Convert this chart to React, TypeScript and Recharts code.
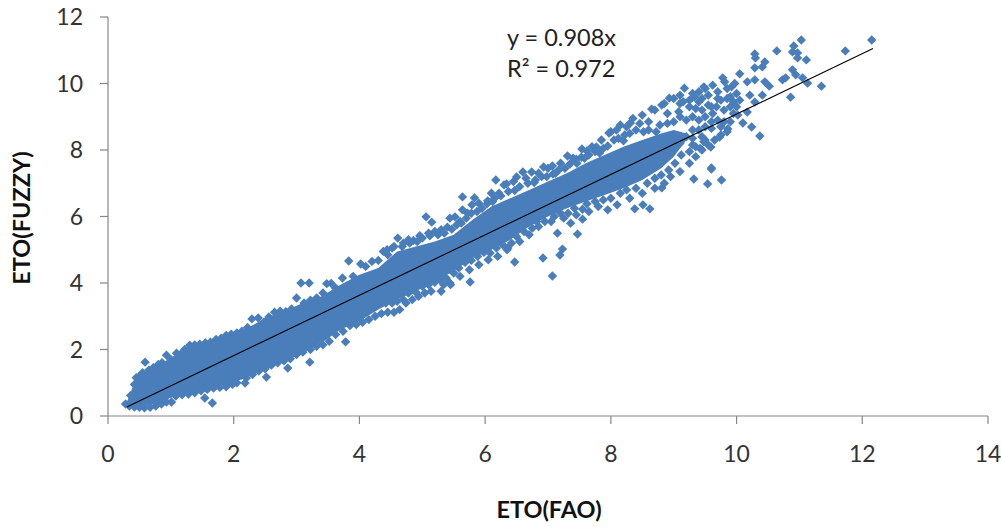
import { Area, ComposedChart, Line, Scatter, XAxis, YAxis } from "recharts";

const X_TICKS = [0, 2, 4, 6, 8, 10, 12, 14];
const Y_TICKS = [0, 2, 4, 6, 8, 10, 12];
const BLUE = "#4a7ebb";
const FONT = "Lato, 'Open Sans', sans-serif";

// the middle of the cloud is solid colour, single markers can't be read there,
// so it is kept as a low/high envelope per FAO value
const coreFao = [0.3, 0.42, 0.6, 0.8, 1.0, 1.3, 1.6, 1.9, 2.2, 2.5, 2.8, 3.1, 3.4, 3.7, 4.0, 4.3, 4.6, 4.9, 5.2, 5.5, 5.8, 6.1, 6.4, 6.7, 7.0, 7.3, 7.6, 7.9, 8.2, 8.5, 8.8, 9.0, 9.2];
const coreLow = [0.3, 0.32, 0.3, 0.38, 0.55, 0.7, 0.85, 0.95, 1.15, 1.4, 1.65, 1.9, 2.2, 2.6, 2.85, 3.2, 3.5, 3.75, 4.05, 4.35, 4.75, 5.0, 5.3, 5.7, 6.0, 6.25, 6.45, 6.65, 6.85, 7.1, 7.45, 7.8, 8.3];
const coreHigh = [0.42, 1.0, 1.32, 1.52, 1.75, 2.1, 2.25, 2.4, 2.62, 2.95, 3.15, 3.4, 3.6, 3.95, 4.25, 4.45, 4.95, 5.1, 5.25, 5.45, 5.9, 6.3, 6.55, 6.8, 7.05, 7.3, 7.6, 7.85, 8.1, 8.3, 8.5, 8.6, 8.5];

const upperMarks = [
  [0.36, 0.62], [0.42, 0.95], [0.45, 1.15], [0.5, 1.2], [0.55, 1.3], [0.59, 1.62], [0.65, 1.38], [0.72, 1.45], [0.8, 1.55], [0.86, 1.6],
  [0.93, 1.83], [1.0, 1.7], [1.09, 1.89], [1.15, 1.85], [1.22, 2.0], [1.3, 2.13], [1.38, 2.14], [1.46, 2.16], [1.55, 2.2], [1.63, 2.22],
  [1.72, 2.3], [1.8, 2.34], [1.88, 2.42], [1.96, 2.46], [2.05, 2.5], [2.13, 2.55], [2.22, 2.66], [2.29, 2.92], [2.39, 2.95], [2.48, 2.82],
  [2.56, 2.98], [2.65, 3.12], [2.74, 3.15], [2.83, 3.14], [2.92, 3.22], [3.0, 3.55], [3.07, 4.0], [3.2, 4.0], [3.12, 3.4], [3.22, 3.48],
  [3.32, 3.55], [3.42, 3.7], [3.48, 3.98], [3.55, 3.99], [3.62, 3.85], [3.73, 4.15], [3.83, 4.66], [3.9, 4.2], [4.02, 4.57], [4.1, 4.5],
  [4.2, 4.65], [4.3, 4.68], [4.38, 4.95], [4.44, 5.0], [4.52, 5.05], [4.61, 5.35], [4.7, 5.2], [4.78, 5.3], [4.86, 5.28], [4.96, 5.42],
  [5.06, 5.99], [5.15, 5.83], [5.1, 5.5], [5.2, 5.55], [5.3, 5.6], [5.44, 5.95], [5.52, 5.99], [5.4, 5.68], [5.6, 5.85], [5.64, 6.2],
  [5.64, 6.59], [5.72, 6.1], [5.79, 6.35], [5.83, 6.56], [5.9, 6.4], [6.04, 6.47], [6.1, 6.7], [6.12, 6.45], [6.17, 7.1], [6.22, 6.7],
  [6.34, 6.98], [6.3, 6.95], [6.45, 7.05], [6.5, 7.19], [6.6, 7.34], [6.65, 7.15], [6.74, 7.34], [6.85, 7.3], [6.8, 7.1], [6.93, 7.49],
  [7.07, 7.52], [7.0, 7.45], [7.12, 7.3], [7.2, 7.6], [7.31, 7.82], [7.4, 7.75], [7.46, 7.6], [7.54, 8.03], [7.62, 7.97], [7.58, 7.75],
  [7.77, 8.09], [7.7, 8.1], [7.82, 7.91], [7.85, 8.3], [7.97, 8.51], [8.0, 8.55], [8.09, 8.6], [8.15, 8.75], [8.25, 8.7], [8.31, 8.81],
  [8.22, 8.45], [8.35, 8.95], [8.46, 8.8], [8.5, 9.05], [8.65, 9.23], [8.6, 8.85], [8.7, 9.2], [8.81, 9.35], [8.85, 9.4], [8.93, 9.56],
  [8.9, 9.1], [9.0, 9.55], [9.08, 9.15], [9.1, 9.65], [9.17, 9.86], [9.15, 9.45], [9.25, 9.5], [9.33, 9.6], [9.4, 9.75], [9.48, 9.9],
  [4.45, 4.85], [4.55, 5.1], [4.68, 5.1], [4.8, 5.2], [4.92, 5.25], [5.0, 5.35], [5.12, 5.42], [5.25, 5.45], [5.35, 5.5], [5.47, 5.62],
  [5.55, 5.75], [5.62, 5.8], [5.7, 5.95], [5.78, 6.1], [5.87, 6.15], [5.95, 6.25], [6.03, 6.38], [6.15, 6.55], [6.25, 6.62], [6.37, 6.75],
  [6.47, 6.78], [6.55, 6.9], [6.68, 7.0], [6.78, 7.02], [6.9, 7.2], [6.98, 7.2], [7.08, 7.28], [7.17, 7.4], [7.27, 7.45], [7.35, 7.58],
  [7.45, 7.72], [7.53, 7.78], [7.65, 7.85], [7.75, 7.95], [7.88, 8.05], [7.95, 8.12], [8.05, 8.3], [8.12, 8.35], [8.2, 8.28], [8.3, 8.5],
  [8.4, 8.6], [8.52, 8.55], [8.6, 8.6], [8.72, 8.55], [8.78, 8.75], [8.9, 8.8], [9.0, 8.85],
];

const lowerMarks = [
  [0.28, 0.36], [0.34, 0.3], [0.42, 0.27], [0.5, 0.26], [0.58, 0.25], [0.67, 0.26], [0.76, 0.3], [0.85, 0.36], [0.93, 0.42], [1.01, 0.42],
  [1.08, 0.6], [1.18, 0.64], [1.28, 0.66], [1.38, 0.7], [1.54, 0.54], [1.48, 0.76], [1.58, 0.8], [1.66, 0.39], [1.68, 0.84], [1.78, 0.86],
  [1.88, 0.88], [1.98, 0.95], [2.05, 1.0], [2.18, 0.99], [2.2, 1.14], [2.3, 1.25], [2.4, 1.35], [2.52, 1.17], [2.5, 1.42], [2.6, 1.53],
  [2.7, 1.6], [2.86, 1.44], [2.8, 1.66], [2.9, 1.72], [3.0, 1.85], [3.1, 1.92], [3.21, 1.62], [3.22, 2.0], [3.32, 2.1], [3.42, 2.14],
  [3.52, 2.25], [3.62, 2.45], [3.78, 2.23], [3.74, 2.55], [3.85, 2.72], [3.95, 2.75], [4.05, 2.82], [4.15, 2.9], [4.25, 3.0], [4.35, 3.08],
  [4.45, 3.12], [4.55, 3.12], [4.64, 3.2], [4.74, 3.4], [4.84, 3.5], [4.94, 3.6], [5.04, 3.7], [5.14, 3.75], [5.3, 3.75], [5.34, 3.95],
  [5.44, 4.0], [5.45, 3.95], [5.6, 4.2], [5.76, 4.03], [5.75, 4.4], [5.9, 4.55], [6.05, 4.7], [6.2, 4.8], [6.35, 5.0], [6.36, 5.05],
  [6.47, 4.63], [6.55, 5.25], [6.7, 5.45], [6.85, 5.7], [6.92, 4.75], [7.07, 4.21], [7.05, 5.85], [7.15, 5.5], [7.19, 4.84], [7.23, 5.02],
  [7.25, 5.95], [7.36, 5.8], [7.47, 5.47], [7.45, 6.05], [7.55, 5.92], [7.65, 6.15], [7.8, 6.3], [7.95, 6.2], [8.1, 6.35], [8.3, 6.55],
  [8.38, 6.23], [8.51, 6.35], [8.62, 6.23], [8.5, 6.7], [8.7, 6.85], [8.81, 6.86], [8.85, 7.0], [8.95, 7.2], [9.1, 7.35], [9.25, 7.6],
  [9.35, 7.8], [9.45, 8.0], [9.55, 8.15], [9.65, 8.3], [9.75, 8.45], [9.85, 8.55], [9.32, 7.13], [9.54, 6.98], [9.76, 7.1], [9.6, 7.43],
  [4.42, 3.4], [4.52, 3.4], [4.6, 3.45], [4.7, 3.5], [4.78, 3.7], [4.9, 3.72], [5.0, 3.9], [5.1, 3.95], [5.2, 4.02], [5.28, 4.1],
  [5.38, 4.15], [5.5, 4.3], [5.58, 4.45], [5.68, 4.62], [5.78, 4.68], [5.88, 4.8], [5.98, 4.92], [6.08, 4.9], [6.18, 5.05], [6.28, 5.15],
  [6.42, 5.2], [6.5, 5.4], [6.62, 5.55], [6.75, 5.65], [6.82, 5.85], [6.95, 5.85], [7.1, 6.0], [7.2, 6.1], [7.32, 6.1], [7.42, 6.25],
  [7.55, 6.22], [7.62, 6.38], [7.75, 6.45], [7.88, 6.5], [8.0, 6.55], [8.15, 6.7], [8.25, 6.8], [8.4, 6.85], [8.58, 7.0], [8.7, 7.15],
  [8.8, 7.25], [8.92, 7.4], [9.02, 7.6], [9.12, 7.85], [9.25, 7.95], [9.35, 8.1], [9.48, 8.25],
];

const tailMarks = [
  [9.3, 9.7], [9.45, 9.55], [9.5, 9.85], [9.55, 9.65], [9.62, 9.95], [9.7, 9.75], [9.78, 10.17], [9.81, 10.05], [9.85, 9.85], [9.92, 9.9],
  [9.97, 10.0], [10.05, 10.29], [10.0, 9.7], [9.9, 9.6], [9.75, 9.5], [9.68, 9.3], [9.55, 9.35], [9.45, 9.2], [9.35, 9.25], [9.62, 9.1],
  [9.8, 9.2], [9.9, 9.3], [10.0, 9.3], [9.95, 9.1], [9.8, 8.85], [9.7, 8.9], [9.6, 8.65], [9.75, 8.7], [9.86, 8.63], [9.9, 8.85],
  [10.02, 9.05], [10.1, 8.81], [10.17, 9.14], [9.73, 8.39], [9.59, 8.09], [9.5, 8.3], [9.42, 8.05], [9.3, 8.15], [9.6, 7.46], [9.45, 8.4],
  [9.1, 9.0], [9.2, 8.9], [9.3, 9.0], [9.4, 8.9], [9.5, 9.0], [9.4, 8.6], [9.5, 8.7], [9.6, 8.85], [9.3, 8.6], [9.2, 8.4],
  [9.3, 8.35], [9.1, 8.2], [9.6, 9.3], [9.7, 9.55], [9.85, 9.55], [9.95, 9.45], [10.05, 9.5], [9.25, 9.3], [9.1, 9.4], [9.4, 9.45],
  [12.15, 11.31], [11.73, 10.98], [11.35, 9.92], [11.13, 10.01], [11.05, 10.17], [10.86, 9.59], [11.11, 10.71], [11.03, 11.31], [10.91, 11.13], [10.89, 10.95],
  [10.97, 10.92], [10.97, 10.77], [10.64, 10.98], [10.29, 10.89], [10.3, 10.77], [10.45, 10.65], [10.41, 10.5], [10.29, 10.47], [10.89, 10.41], [10.94, 10.26],
  [10.78, 10.17], [10.73, 10.11], [10.41, 9.65], [10.29, 10.11], [10.45, 10.05], [10.52, 9.92], [10.17, 10.05], [10.21, 9.65], [10.29, 9.44], [10.24, 8.69],
  [10.37, 8.42],
];

const trendFao = [0.3, 12.17];
const trendFuzzy = [0.27, 11.05];

const coreRows = coreFao.map((x, i) => ({ x, range: [coreLow[i], coreHigh[i]] }));
const markRows = [...upperMarks, ...lowerMarks, ...tailMarks].map(([x, y]) => ({ x, y }));
const trendRows = trendFao.map((x, i) => ({ x, y: trendFuzzy[i] }));

const Diamond = ({ cx, cy }: any) => (
  <polygon
    points={`${cx},${cy - 4.7} ${cx + 4.7},${cy} ${cx},${cy + 4.7} ${cx - 4.7},${cy}`}
    fill={BLUE}
  />
);

const App = () => {
  const tick = { fill: "#333", fontSize: 23, fontFamily: FONT };
  const axisLine = { stroke: "#868686", strokeWidth: 1.2 };
  const title = { fontFamily: FONT, fontSize: 23.5, fontWeight: 700, fill: "#111" };

  return (
    <div style={{ position: "absolute", left: 0, top: 0, width: 1001, height: 527, background: "#fff" }}>
      <ComposedChart
        width={1001}
        height={527}
        data={coreRows}
        margin={{ top: 17, right: 13, bottom: 0, left: 0 }}
      >
        <XAxis
          type="number"
          dataKey="x"
          domain={[0, 14]}
          ticks={X_TICKS}
          height={111}
          tickSize={8}
          tickMargin={22}
          tick={tick}
          axisLine={axisLine}
          tickLine={axisLine}
          interval={0}
        />
        <YAxis
          type="number"
          dataKey="y"
          domain={[0, 12]}
          ticks={Y_TICKS}
          width={108}
          tickSize={8}
          tickMargin={17}
          tick={tick}
          axisLine={axisLine}
          tickLine={axisLine}
          interval={0}
        />
        <Area
          dataKey="range"
          type="linear"
          stroke="none"
          fill={BLUE}
          fillOpacity={1}
          dot={false}
          activeDot={false}
          isAnimationActive={false}
        />
        <Scatter data={markRows} shape={Diamond} isAnimationActive={false} />
        <Line
          data={trendRows}
          dataKey="y"
          type="linear"
          stroke="#000"
          strokeWidth={1.1}
          dot={false}
          activeDot={false}
          isAnimationActive={false}
          zIndex={700}
        />
        <text x={507} y={46} fontFamily={FONT} fontSize={23.5} fill="#222">y = 0.908x</text>
        <text x={507} y={77} fontFamily={FONT} fontSize={23.5} fill="#222">R² = 0.972</text>
        <text x={549} y={518} textAnchor="middle" {...title}>ETO(FAO)</text>
        <text x={30} y={218} textAnchor="middle" transform="rotate(-90 30 218)" {...title}>ETO(FUZZY)</text>
      </ComposedChart>
    </div>
  );
};

export default App;
